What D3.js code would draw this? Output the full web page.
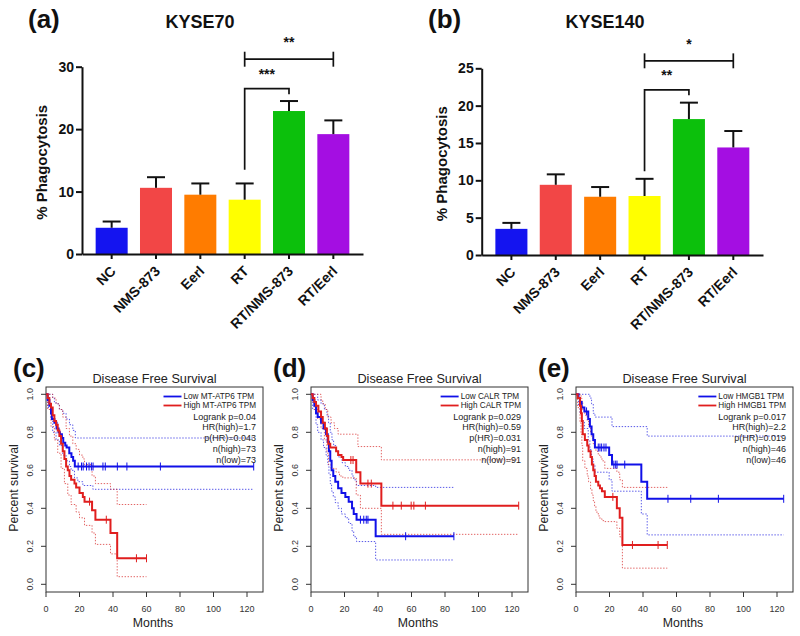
<!DOCTYPE html>
<html><head><meta charset="utf-8">
<script src="https://cdn.jsdelivr.net/npm/d3@7"></script>
<style>body{margin:0;background:#fff}svg{display:block}text{font-family:"Liberation Sans",Arial,sans-serif}</style>
</head><body>
<script>
// ---------- DATA ----------
const barCats = ["NC","NMS-873","Eerl","RT","RT/NMS-873","RT/Eerl"];
const barColors = ["#1414f0","#f24646","#ff7c00","#ffff00","#0cc00c","#a40ee2"];
const kyse70Mean = [4.2,10.6,9.5,8.7,22.9,19.2];
const kyse70Err  = [1.0,1.7,1.8,2.6,1.6,2.2];
const kyse70Ticks = [0,10,20,30];
const kyse140Mean = [3.5,9.4,7.8,7.9,18.2,14.4];
const kyse140Err  = [0.8,1.4,1.3,2.3,2.2,2.2];
const kyse140Ticks = [0,5,10,15,20,25];
// brackets: [fromCat, toCat, fromValue, topValue, toValue, label]
const kyse70Brackets = [["RT","RT/NMS-873",13.5,26.5,25.6,"***"]];
const kyse70Wide = ["RT","RT/Eerl",31.2,1.2,"**"];
const kyse140Brackets = [["RT","RT/NMS-873",11.2,22.1,21.4,"**"]];
const kyse140Wide = ["RT","RT/Eerl",26.0,1.0,"*"];

const kmXTicks = [0,20,40,60,80,100,120];
const kmYTicks = [0,0.2,0.4,0.6,0.8,1.0];

// Panel (c) MT-ATP6
const cLow = [[0,1],[1,0.97],[2,0.94],[3,0.9],[3.5,0.87],[5,0.85],[6.3,0.82],[7.5,0.8],[8.3,0.79],[9.5,0.77],[10.3,0.745],[11.5,0.73],[12.3,0.72],[13.9,0.69],[15.2,0.67],[16.2,0.65],[17.2,0.62],[124,0.62]];
const cLowUp = [[0,1],[2,1],[4,0.98],[5,0.96],[6,0.95],[8,0.92],[10,0.9],[12,0.87],[14,0.84],[16,0.81],[17.5,0.77],[124,0.77]];
const cLowLo = [[0,1],[1,0.93],[3,0.87],[4,0.8],[6,0.76],[8,0.73],[10,0.68],[12,0.65],[14,0.62],[15,0.6],[17,0.56],[19,0.54],[22,0.52],[28,0.5],[124,0.5]];
const cLowCens = [19.2,21.2,22.2,24.2,25.7,27.1,28.1,34,35.4,42.6,48.3,68.3,124];
const cHigh = [[0,1],[1,0.98],[2,0.95],[3,0.93],[4,0.89],[5,0.86],[6,0.84],[7,0.81],[8,0.78],[9,0.74],[10,0.7],[11,0.66],[12,0.62],[13,0.6],[14,0.57],[15,0.55],[17,0.53],[18,0.51],[20,0.48],[22,0.46],[23,0.435],[27.5,0.39],[29.5,0.34],[38.5,0.27],[42.5,0.137],[60,0.137]];
const cHighUp = [[0,1],[3,1],[4,0.98],[6,0.95],[8,0.92],[10,0.88],[12,0.82],[14,0.78],[16,0.74],[18,0.71],[20,0.68],[22,0.66],[23,0.63],[27.5,0.57],[29.5,0.53],[38.5,0.5],[42.5,0.42],[60,0.42]];
const cHighLo = [[0,1],[1,0.92],[3,0.83],[5,0.76],[7,0.69],[9,0.61],[11,0.53],[13,0.47],[15,0.42],[18,0.38],[20,0.35],[23,0.31],[27.5,0.27],[29.5,0.21],[38.5,0.16],[42.5,0.04],[60,0.04]];
const cHighCens = [26,36,54,60];
const cLegend = ["Low MT-ATP6 TPM","High MT-ATP6 TPM"];
const cStats = ["Logrank p=0.04","HR(high)=1.7","p(HR)=0.043","n(high)=73","n(low)=73"];

// Panel (d) CALR
const dLow = [[0,1],[1,0.97],[2,0.94],[3,0.9],[4,0.88],[6,0.85],[7.5,0.82],[9,0.79],[10,0.75],[10.7,0.7],[11.5,0.65],[12.3,0.6],[13.3,0.57],[14.5,0.54],[16.2,0.505],[18.2,0.48],[20.5,0.46],[22.5,0.435],[24.5,0.4],[25.5,0.37],[27.2,0.34],[38.6,0.253],[85.3,0.253]];
const dLowUp = [[0,1],[3,1],[4,0.97],[6,0.95],[8,0.92],[9.5,0.89],[10.5,0.85],[11.5,0.8],[12.5,0.76],[13.5,0.73],[15,0.7],[16.5,0.67],[18.5,0.64],[20.5,0.62],[22.5,0.6],[24.5,0.57],[25.5,0.55],[27.2,0.52],[38.6,0.51],[85.3,0.51]];
const dLowLo = [[0,1],[1,0.92],[3,0.84],[4,0.8],[6,0.76],[7.5,0.72],[9,0.68],[10,0.63],[10.7,0.58],[11.5,0.53],[12.3,0.49],[13.3,0.46],[14.5,0.43],[16.2,0.4],[18.2,0.37],[20.5,0.35],[22.5,0.32],[24.5,0.28],[25.5,0.25],[27.2,0.225],[38.6,0.128],[85.3,0.128]];
const dLowCens = [29.5,31.5,33,34,56.5,85.3];
const dHigh = [[0,1],[1,0.98],[2,0.96],[3,0.94],[4.4,0.91],[6,0.88],[7,0.85],[8.3,0.82],[9.5,0.78],[10.3,0.74],[11.5,0.72],[15,0.7],[16.2,0.68],[18.2,0.67],[19.2,0.654],[27,0.59],[29.5,0.53],[42,0.414],[124,0.414]];
const dHighUp = [[0,1],[5,1],[6,0.97],[7,0.95],[8.5,0.92],[10,0.88],[12,0.85],[14,0.82],[16.2,0.79],[28,0.725],[42,0.655],[124,0.655]];
const dHighLo = [[0,1],[1,0.96],[2,0.92],[4,0.87],[6,0.82],[8,0.76],[9.5,0.69],[10.5,0.63],[12,0.61],[15,0.59],[17,0.57],[19,0.56],[27,0.47],[29.5,0.4],[42,0.263],[124,0.263]];
const dHighCens = [23.8,25.1,34,36,48.9,53.9,59.8,61.4,68.3,124];
const dLegend = ["Low CALR TPM","High CALR TPM"];
const dStats = ["Logrank p=0.029","HR(high)=0.59","p(HR)=0.031","n(high)=91","n(low)=91"];

// Panel (e) HMGB1
const eLow = [[0,1],[1.5,0.98],[2.4,0.96],[3.4,0.93],[5,0.91],[7.3,0.87],[8.3,0.83],[9.3,0.79],[10.3,0.76],[11.3,0.72],[19.8,0.68],[21.5,0.63],[39,0.54],[42.5,0.45],[124,0.45]];
const eLowUp = [[0,1],[7.3,1],[8.3,0.98],[9.3,0.95],[10.3,0.9],[11.3,0.88],[21.5,0.83],[42.5,0.78],[124,0.78]];
const eLowLo = [[0,1],[1.5,0.94],[2.4,0.9],[3.4,0.86],[5,0.82],[7.3,0.76],[8.3,0.71],[9.3,0.66],[10.3,0.63],[11.3,0.59],[19.8,0.55],[21.5,0.49],[39,0.37],[42.5,0.26],[124,0.26]];
const eLowCens = [6.3,13.3,14.3,15.3,16.7,17.9,22.6,23.7,24.5,29.1,54.9,68.5,85,124];
const eHigh = [[0,1],[1,0.98],[2.4,0.94],[3,0.9],[3.5,0.86],[4,0.79],[5.3,0.76],[6.7,0.73],[7.5,0.7],[8.7,0.67],[9.5,0.63],[10.3,0.6],[11.1,0.57],[11.9,0.54],[13.3,0.52],[14.3,0.505],[15.5,0.49],[17.2,0.46],[24.4,0.4],[26.1,0.35],[27.7,0.207],[54.5,0.207]];
const eHighUp = [[0,1],[2.4,1],[3,0.98],[3.5,0.96],[4,0.92],[5.3,0.89],[6.7,0.86],[7.5,0.83],[8.7,0.8],[9.5,0.77],[10.3,0.74],[11.1,0.72],[11.9,0.7],[13.3,0.68],[14.3,0.67],[15.5,0.65],[17.2,0.61],[24.4,0.59],[26.1,0.55],[27.7,0.51],[54.5,0.51]];
const eHighLo = [[0,1],[1,0.93],[2.4,0.85],[3,0.79],[3.5,0.73],[4,0.65],[5.3,0.61],[6.7,0.57],[7.5,0.54],[8.7,0.5],[9.5,0.47],[10.3,0.44],[11.1,0.41],[11.9,0.38],[13.3,0.36],[14.3,0.345],[15.5,0.335],[17.2,0.33],[24.4,0.295],[26.1,0.25],[27.7,0.085],[54.5,0.085]];
const eHighCens = [22,33.7,49,54.5];
const eLegend = ["Low HMGB1 TPM","High HMGB1 TPM"];
const eStats = ["Logrank p=0.017","HR(high)=2.2","p(HR)=0.019","n(high)=46","n(low)=46"];

// ---------- DRAW ----------
const svg = d3.select("body").append("svg").attr("width",800).attr("height",636);
svg.append("rect").attr("width",800).attr("height",636).attr("fill","#fff");

function barPanel(o){
  const g = svg.append("g");
  const x = d3.scaleBand().domain(barCats).range([o.left,o.right]).paddingInner(0.278).paddingOuter(0.308);
  const y = d3.scaleLinear().domain([0,o.max]).range([o.bottom,o.top]);
  g.selectAll("rect.bar").data(barCats).join("rect")
    .attr("x",d=>x(d)).attr("width",x.bandwidth())
    .attr("y",(d,i)=>y(o.mean[i])).attr("height",(d,i)=>y(0)-y(o.mean[i]))
    .attr("fill",(d,i)=>barColors[i]);
  const cx = d=>x(d)+x.bandwidth()/2;
  g.selectAll("line.eb").data(barCats).join("line")
    .attr("x1",cx).attr("x2",cx)
    .attr("y1",(d,i)=>y(o.mean[i])).attr("y2",(d,i)=>y(o.mean[i]+o.err[i]))
    .attr("stroke","#111").attr("stroke-width",2);
  g.selectAll("line.cap").data(barCats).join("line")
    .attr("x1",d=>cx(d)-9).attr("x2",d=>cx(d)+9)
    .attr("y1",(d,i)=>y(o.mean[i]+o.err[i])).attr("y2",(d,i)=>y(o.mean[i]+o.err[i]))
    .attr("stroke","#111").attr("stroke-width",2);
  const ya = g.append("g").attr("transform",`translate(${o.left},0)`)
    .call(d3.axisLeft(y).tickValues(o.ticks).tickSize(6).tickPadding(2).tickSizeOuter(0));
  const xa = g.append("g").attr("transform",`translate(0,${o.bottom})`)
    .call(d3.axisBottom(x).tickSize(5).tickSizeOuter(0));
  [ya,xa].forEach(a=>{a.select(".domain").attr("stroke","#111").attr("stroke-width",2);
    a.selectAll(".tick line").attr("stroke","#111").attr("stroke-width",2);
    a.selectAll("text").attr("font-size",14).attr("font-weight","bold").attr("fill","#111")
     .attr("font-family","'Liberation Sans',Arial,sans-serif");});
  xa.selectAll(".tick text").attr("y",0).attr("dy",0).attr("x",0)
    .attr("text-anchor","end").attr("transform","translate(5,18) rotate(-45)");
  g.append("text").attr("transform",`translate(${o.left-35},${(o.top+o.bottom)/2+2}) rotate(-90)`)
    .attr("text-anchor","middle").attr("font-size",15).attr("font-weight","bold").attr("fill","#111")
    .text("% Phagocytosis");
  g.append("text").attr("x",o.titleX).attr("y",28).attr("text-anchor","middle")
    .attr("font-size",18).attr("font-weight","bold").attr("fill","#111").text(o.title);
  g.append("text").attr("x",o.labelX).attr("y",28).attr("font-size",26).attr("font-weight","bold")
    .attr("fill","#111").text(o.label);
  o.brackets.forEach(b=>{
    const x1=cx(b[0]), x2=cx(b[1]);
    g.append("path").attr("d",`M${x1},${y(b[2])}V${y(b[3])}H${x2}V${y(b[4])}`)
      .attr("fill","none").attr("stroke","#111").attr("stroke-width",1.7);
    g.append("text").attr("x",(x1+x2)/2).attr("y",y(b[3])-10).attr("text-anchor","middle")
      .attr("font-size",14).attr("font-weight","bold").attr("fill","#111").text(b[5]);
  });
  const w=o.wide, wx1=cx(w[0]), wx2=cx(w[1]);
  g.append("line").attr("x1",wx1).attr("x2",wx2).attr("y1",y(w[2])).attr("y2",y(w[2]))
    .attr("stroke","#111").attr("stroke-width",1.7);
  [wx1,wx2].forEach(xx=>g.append("line").attr("x1",xx).attr("x2",xx)
    .attr("y1",y(w[2]-w[3])).attr("y2",y(w[2]+w[3])).attr("stroke","#111").attr("stroke-width",1.7));
  g.append("text").attr("x",(wx1+wx2)/2).attr("y",y(w[2])-12).attr("text-anchor","middle")
    .attr("font-size",14).attr("font-weight","bold").attr("fill","#111").text(w[4]);
}

barPanel({left:82,right:363,top:66.7,bottom:254,max:30,ticks:kyse70Ticks,mean:kyse70Mean,err:kyse70Err,
  title:"KYSE70",titleX:200,label:"(a)",labelX:28,brackets:kyse70Brackets,wide:kyse70Wide});
barPanel({left:481.7,right:763,top:68.3,bottom:255,max:25,ticks:kyse140Ticks,mean:kyse140Mean,err:kyse140Err,
  title:"KYSE140",titleX:605,label:"(b)",labelX:428,brackets:kyse140Brackets,wide:kyse140Wide});

function kmPanel(o){
  const dx=o.dx, g=svg.append("g");
  const x=d3.scaleLinear().domain([0,120]).range([46+dx,247+dx]);
  const y=d3.scaleLinear().domain([0,1]).range([584.3,394.3]);
  const boxL=46+dx, boxR=263+dx, boxT=387, boxB=592;
  g.append("rect").attr("x",boxL).attr("y",boxT).attr("width",boxR-boxL).attr("height",boxB-boxT)
    .attr("fill","none").attr("stroke","#333").attr("stroke-width",1);
  g.selectAll("line.yt").data(kmYTicks).join("line").attr("x1",boxL-5).attr("x2",boxL)
    .attr("y1",d=>y(d)).attr("y2",d=>y(d)).attr("stroke","#333");
  g.selectAll("text.yt").data(kmYTicks).join("text")
    .attr("transform",d=>`translate(${30+dx},${y(d)}) rotate(-90)`).attr("text-anchor","middle")
    .attr("dy","0.35em").attr("font-size",9).attr("fill","#333").text(d=>d.toFixed(1));
  g.selectAll("line.xt").data(kmXTicks).join("line").attr("x1",d=>x(d)).attr("x2",d=>x(d))
    .attr("y1",boxB).attr("y2",boxB+5).attr("stroke","#333");
  g.selectAll("text.xt").data(kmXTicks).join("text").attr("x",d=>x(d)).attr("y",608.5)
    .attr("dy","0.35em").attr("text-anchor","middle").attr("font-size",9).attr("fill","#333").text(d=>d);
  g.append("text").attr("x",(boxL+boxR)/2).attr("y",378.5).attr("dy","0.35em").attr("text-anchor","middle")
    .attr("font-size",12.7).attr("fill","#222").text("Disease Free Survival");
  g.append("text").attr("transform",`translate(${13.5+dx},488) rotate(-90)`).attr("dy","0.35em")
    .attr("text-anchor","middle").attr("font-size",12.3).attr("fill","#222").text("Percent survival");
  g.append("text").attr("x",153+dx).attr("y",623).attr("dy","0.35em").attr("text-anchor","middle")
    .attr("font-size",12.3).attr("fill","#222").text("Months");
  g.append("text").attr("x",o.labelX).attr("y",377).attr("font-size",26).attr("font-weight","bold")
    .attr("fill","#111").text(o.label);
  const line=d3.line().x(d=>x(d[0])).y(d=>y(d[1])).curve(d3.curveStepAfter);
  const ci=(data,col)=>g.append("path").attr("d",line(data)).attr("fill","none").attr("stroke",col)
    .attr("stroke-width",1).attr("stroke-dasharray","1.4,1.6").attr("opacity",0.75);
  ci(o.lowUp,"#2020e0"); ci(o.lowLo,"#2020e0"); ci(o.highUp,"#d83030"); ci(o.highLo,"#d83030");
  const main=(data,col,cens)=>{
    g.append("path").attr("d",line(data)).attr("fill","none").attr("stroke",col).attr("stroke-width",2);
    const sAt=t=>{let s=1;data.forEach(p=>{if(p[0]<=t)s=p[1];});return s;};
    g.selectAll(null).data(cens).join("line").attr("x1",d=>x(d)).attr("x2",d=>x(d))
      .attr("y1",d=>y(sAt(d))-4).attr("y2",d=>y(sAt(d))+4).attr("stroke",col).attr("stroke-width",1);
  };
  main(o.low,"#1010e8",o.lowCens); main(o.high,"#e01e1e",o.highCens);
  const rightX=256+dx, ly=[396.5,405.5];
  const lt=g.selectAll("text.lg").data(o.legend).join("text").attr("y",(d,i)=>ly[i]).attr("dy","0.35em")
    .attr("font-size",8.2).attr("fill","#222").text(d=>d);
  let mw=0; lt.each(function(){mw=Math.max(mw,this.getComputedTextLength());});
  const ts=rightX-mw;
  lt.attr("x",ts);
  g.selectAll("line.lg").data(o.legend).join("line").attr("x1",ts-20).attr("x2",ts-2)
    .attr("y1",(d,i)=>ly[i]).attr("y2",(d,i)=>ly[i])
    .attr("stroke",(d,i)=>i===0?"#1010e8":"#e01e1e").attr("stroke-width",1.8);
  g.selectAll("text.st").data(o.stats).join("text").attr("x",rightX).attr("y",(d,i)=>416.5+i*10.8)
    .attr("dy","0.35em").attr("text-anchor","end").attr("font-size",9).attr("fill","#222").text(d=>d);
}

kmPanel({dx:0,label:"(c)",labelX:13,low:cLow,lowUp:cLowUp,lowLo:cLowLo,lowCens:cLowCens,
  high:cHigh,highUp:cHighUp,highLo:cHighLo,highCens:cHighCens,legend:cLegend,stats:cStats});
kmPanel({dx:265,label:"(d)",labelX:273,low:dLow,lowUp:dLowUp,lowLo:dLowLo,lowCens:dLowCens,
  high:dHigh,highUp:dHighUp,highLo:dHighLo,highCens:dHighCens,legend:dLegend,stats:dStats});
kmPanel({dx:530,label:"(e)",labelX:538,low:eLow,lowUp:eLowUp,lowLo:eLowLo,lowCens:eLowCens,
  high:eHigh,highUp:eHighUp,highLo:eHighLo,highCens:eHighCens,legend:eLegend,stats:eStats});
</script>
</body></html>
